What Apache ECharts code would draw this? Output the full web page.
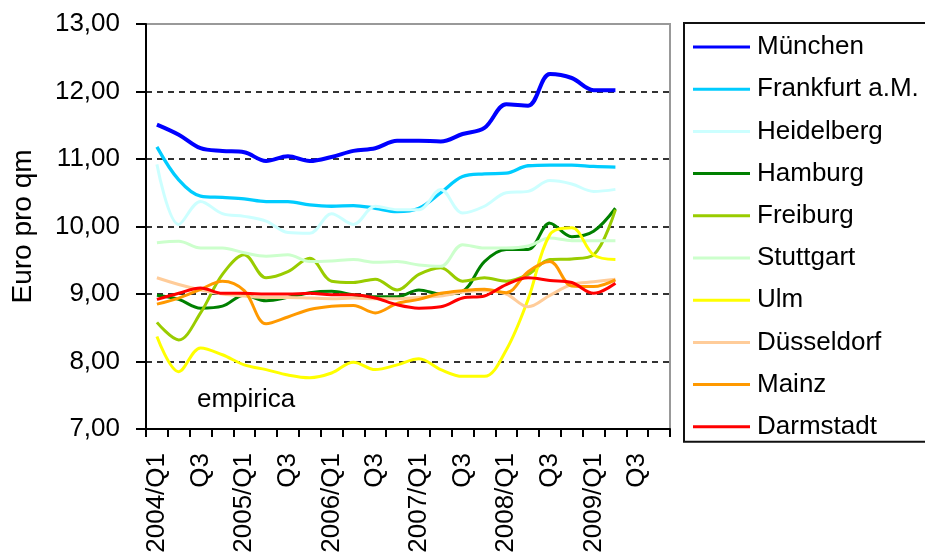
<!DOCTYPE html>
<html>
<head>
<meta charset="utf-8">
<script src="https://cdn.jsdelivr.net/npm/echarts@6/dist/echarts.min.js"></script>
<style>
  html, body { margin: 0; padding: 0; background: #fff; }
  #chart { width: 925px; height: 556px; }
</style>
</head>
<body>
<div id="chart"></div>
<script>
// Quarterly rents (Euro per m²), 2004/Q1 – 2009/Q2; axis runs to 2009/Q4
const categories = [
  '2004/Q1', '2004/Q2', '2004/Q3', '2004/Q4',
  '2005/Q1', '2005/Q2', '2005/Q3', '2005/Q4',
  '2006/Q1', '2006/Q2', '2006/Q3', '2006/Q4',
  '2007/Q1', '2007/Q2', '2007/Q3', '2007/Q4',
  '2008/Q1', '2008/Q2', '2008/Q3', '2008/Q4',
  '2009/Q1', '2009/Q2', '2009/Q3', '2009/Q4'
];

const muenchen   = [11.51, 11.36, 11.16, 11.12, 11.10, 10.97, 11.04, 10.97, 11.03, 11.12, 11.16, 11.27, 11.27, 11.26, 11.37, 11.46, 11.81, 11.79, 12.26, 12.20, 12.02, 12.02];
const frankfurt  = [11.18, 10.69, 10.45, 10.43, 10.41, 10.37, 10.37, 10.32, 10.30, 10.31, 10.27, 10.22, 10.27, 10.50, 10.74, 10.78, 10.79, 10.90, 10.91, 10.91, 10.89, 10.88];
const heidelberg = [10.92, 10.03, 10.37, 10.19, 10.15, 10.08, 9.91, 9.90, 10.19, 10.03, 10.30, 10.25, 10.25, 10.55, 10.20, 10.30, 10.50, 10.52, 10.68, 10.63, 10.52, 10.55];
const hamburg    = [8.98, 8.92, 8.79, 8.82, 8.98, 8.90, 8.95, 9.02, 9.04, 8.99, 8.96, 8.96, 9.06, 9.00, 9.04, 9.48, 9.66, 9.66, 10.05, 9.85, 9.93, 10.27];
const freiburg   = [8.58, 8.32, 8.72, 9.29, 9.58, 9.24, 9.33, 9.53, 9.19, 9.17, 9.22, 9.06, 9.29, 9.39, 9.19, 9.24, 9.19, 9.29, 9.51, 9.52, 9.58, 10.25];
const stuttgart  = [9.76, 9.78, 9.68, 9.68, 9.61, 9.56, 9.58, 9.48, 9.49, 9.51, 9.47, 9.48, 9.43, 9.41, 9.73, 9.68, 9.68, 9.71, 9.83, 9.79, 9.79, 9.79];
const ulm        = [8.37, 7.85, 8.20, 8.10, 7.95, 7.88, 7.80, 7.76, 7.83, 7.99, 7.88, 7.95, 8.04, 7.88, 7.78, 7.78, 8.17, 8.92, 9.88, 9.98, 9.58, 9.51];
const duesseldorf= [9.24, 9.14, 9.06, 9.00, 8.97, 8.95, 8.95, 8.94, 8.93, 8.94, 8.93, 8.93, 8.95, 8.97, 9.03, 9.05, 9.00, 8.81, 8.98, 9.14, 9.18, 9.22];
const mainz      = [8.85, 8.94, 9.07, 9.19, 9.05, 8.56, 8.66, 8.77, 8.82, 8.83, 8.72, 8.86, 8.92, 9.01, 9.05, 9.07, 9.02, 9.33, 9.48, 9.12, 9.11, 9.21];
const darmstadt  = [8.92, 9.01, 9.09, 9.01, 9.01, 9.00, 9.00, 9.01, 8.99, 8.99, 8.94, 8.84, 8.79, 8.81, 8.94, 8.97, 9.14, 9.24, 9.20, 9.17, 9.01, 9.16];

const seriesDefs = [
  { name: 'München',       data: muenchen,    color: '#0000FF', width: 4 },
  { name: 'Frankfurt a.M.', data: frankfurt,  color: '#00CCFF', width: 3.3 },
  { name: 'Heidelberg',    data: heidelberg,  color: '#CCFFFF', width: 3 },
  { name: 'Hamburg',       data: hamburg,     color: '#008000', width: 3 },
  { name: 'Freiburg',      data: freiburg,    color: '#99CC00', width: 3 },
  { name: 'Stuttgart',     data: stuttgart,   color: '#CCFFCC', width: 3 },
  { name: 'Ulm',           data: ulm,         color: '#FFFF00', width: 3 },
  { name: 'Düsseldorf',    data: duesseldorf, color: '#FFCC99', width: 3 },
  { name: 'Mainz',         data: mainz,       color: '#FF9900', width: 3 },
  { name: 'Darmstadt',     data: darmstadt,   color: '#FF0000', width: 3 }
];

const FONT = '"Liberation Sans", Arial, sans-serif';
const FS = 26;

const chart = echarts.init(document.getElementById('chart'), null, { renderer: 'canvas' });

chart.setOption({
  animation: false,
  backgroundColor: '#ffffff',
  grid: {
    left: 146, right: 255, top: 24, bottom: 127,
    show: true, borderColor: '#999999', borderWidth: 2, backgroundColor: '#ffffff'
  },
  xAxis: {
    type: 'category',
    data: categories,
    boundaryGap: true,
    axisLine: { lineStyle: { color: '#000', width: 2 } },
    axisTick: { show: true, interval: 0, length: 8, lineStyle: { color: '#000', width: 2 } },
    axisLabel: {
      interval: 1, rotate: 90, margin: 24,
      color: '#000', fontFamily: FONT, fontSize: FS,
      formatter: v => v.endsWith('Q1') ? v : v.slice(5)
    },
    splitLine: { show: false }
  },
  yAxis: {
    type: 'value',
    min: 7, max: 13, interval: 1,
    name: 'Euro pro qm',
    nameLocation: 'middle',
    nameGap: 109,
    nameTextStyle: { color: '#000', fontFamily: FONT, fontSize: 28 },
    axisLine: { show: true, lineStyle: { color: '#000', width: 2 } },
    axisTick: { show: true, length: 10, lineStyle: { color: '#000', width: 2 } },
    axisLabel: {
      margin: 26, color: '#000', fontFamily: FONT, fontSize: FS,
      formatter: v => v.toFixed(2).replace('.', ',')
    },
    splitLine: {
      show: true, showMinLine: false, showMaxLine: false,
      lineStyle: { color: '#333', width: 2, type: [6, 5] }
    }
  },
  legend: {
    orient: 'vertical',
    left: 684, top: 23,
    padding: [9, 12, 0, 9],
    itemWidth: 57, itemHeight: 3,
    itemGap: 12.2,
    icon: 'rect',
    borderColor: '#111', borderWidth: 2,
    backgroundColor: '#fff',
    textStyle: { color: '#000', fontFamily: FONT, fontSize: FS, lineHeight: 30, padding: [0, 0, 0, 2] },
    data: seriesDefs.map(s => s.name)
  },
  graphic: [{
    type: 'text',
    left: 197, top: 387,
    style: { text: 'empirica', fill: '#000', font: FS + 'px ' + FONT }
  }],
  series: seriesDefs.map(s => ({
    name: s.name,
    type: 'line',
    data: s.data,
    smooth: 0.35,
    showSymbol: false,
    symbol: 'none',
    color: s.color,
    lineStyle: { color: s.color, width: s.width },
    itemStyle: { color: s.color },
    emphasis: { disabled: true }
  }))
});
</script>
</body>
</html>
